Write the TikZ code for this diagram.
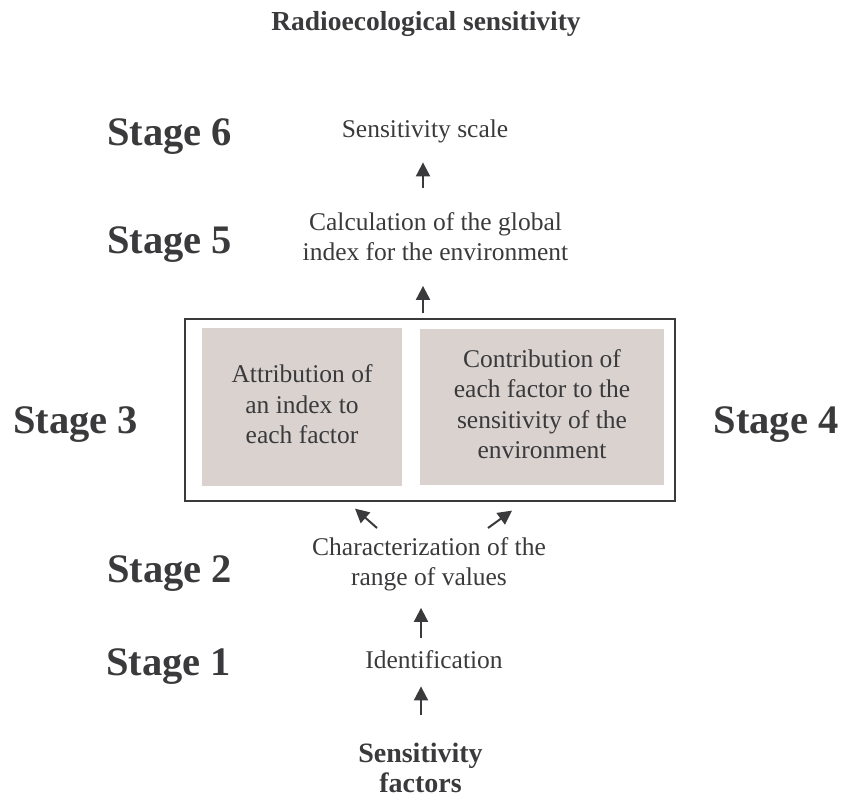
\documentclass[tikz,border=0pt]{standalone}
\usepackage{fontspec}
\setmainfont{LiberationSerif}[Extension=.ttf, UprightFont=*-Regular, BoldFont=*-Bold, ItalicFont=*-Italic, BoldItalicFont=*-BoldItalic]
\usetikzlibrary{arrows.meta,calc}
\definecolor{textc}{RGB}{58,58,60}
\definecolor{boxfill}{RGB}{217,210,206}
\begin{document}
\begin{tikzpicture}[x=1pt,y=-1pt,
  every node/.style={text=textc},
  txt/.style={font=\fontsize{25.5}{30.5}\selectfont, align=center, inner sep=0pt, anchor=north},
  btxt/.style={font=\bfseries\fontsize{28}{30.5}\selectfont, align=center, inner sep=0pt, anchor=north},
  stagelbl/.style={font=\bfseries\fontsize{40.5}{48}\selectfont, inner sep=0pt, anchor=base},
  graybox/.style={fill=boxfill, inner sep=0pt, align=center, font=\fontsize{25.5}{30.5}\selectfont},
  arr/.style={draw=textc, line width=2pt, -{Triangle[length=14pt,width=14pt]}}
]
\useasboundingbox (0,0) rectangle (842,798);

\coordinate (ax1) at (421,0);
\coordinate (ax2) at (423,0);

% title
\node[font=\bfseries\fontsize{27.5}{30}\selectfont, inner sep=0pt, anchor=base] (title) at (426,30) {Radioecological sensitivity};

% stage labels
\node[stagelbl] (s6) at (169.5,145) {Stage 6};
\node[stagelbl] (s5) at (169.5,253) {Stage 5};
\node[stagelbl] (s3) at (75.5,433) {Stage 3};
\node[stagelbl] (s4) at (776,433) {Stage 4};
\node[stagelbl] (s2) at (169.5,582) {Stage 2};
\node[stagelbl] (s1) at (168.5,675) {Stage 1};

% flow texts
\node[txt] (scale) at (425,115.65) {\strut Sensitivity scale};
\node[txt] (calc) at (435.5,208.65) {\strut Calculation of the global\\\strut index for the environment};
\node[txt] (char) at (429,533.65) {\strut Characterization of the\\\strut range of values};
\node[txt] (ident) at (434,646.65) {\strut Identification};
\node[btxt] (sf) at (420.5,740.65) {\strut Sensitivity\\\strut factors};

% frame and gray boxes
\node[draw=textc, line width=1.2pt, minimum width=490pt, minimum height=182pt, inner sep=0pt] (frame) at (430,410) {};
\node[graybox, minimum width=200pt, minimum height=158pt] (attr) at (302,407)
  {\strut Attribution of\\\strut an index to\\\strut each factor};
\node[graybox, minimum width=244pt, minimum height=156pt] (contr) at (542,407)
  {\strut Contribution of\\\strut each factor to the\\\strut sensitivity of the\\\strut environment};

% arrows
\draw[arr, shorten <=25.65pt, shorten >=8.85pt] (sf.north -| ax1) -- (ident.south -| ax1);
\draw[arr, shorten <=8.65pt, shorten >=12.85pt] (ident.north -| ax1) -- (char.south -| ax1);
\draw[arr] ($(char.north)+(-52,-5.65)$) -- ($(frame.south)+(-75,7)$);
\draw[arr] ($(char.north)+(59,-5.65)$) -- ($(frame.south)+(82,9)$);
\draw[arr, shorten <=5pt, shorten >=15.85pt] (frame.north -| ax2) -- (calc.south -| ax2);
\draw[arr, shorten <=20.65pt, shorten >=15.85pt] (calc.north -| ax2) -- (scale.south -| ax2);
\end{tikzpicture}
\end{document}
